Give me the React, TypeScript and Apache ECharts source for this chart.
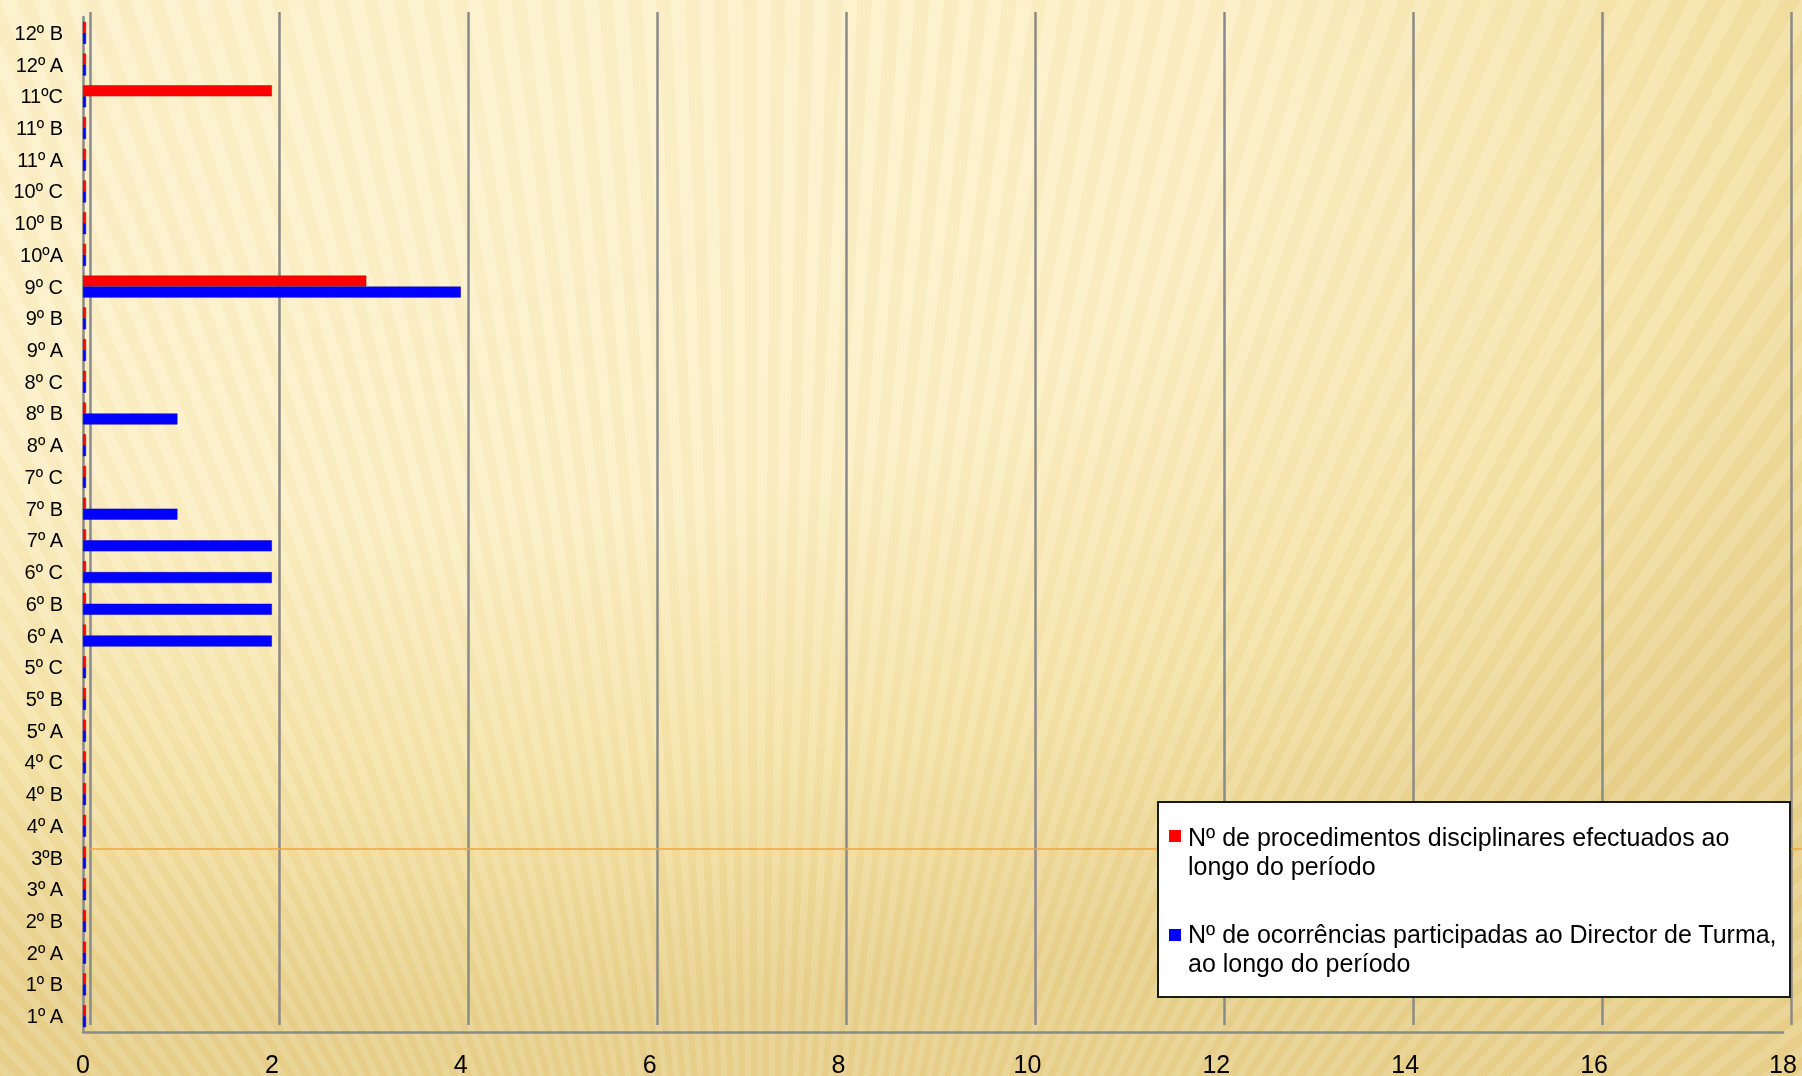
import React, { useEffect, useRef } from "react";
import * as echarts from "echarts";

const categories = [
  "1º A", "1º B", "2º A", "2º B", "3º A", "3ºB", "4º A", "4º B", "4º C",
  "5º A", "5º B", "5º C", "6º A", "6º B", "6º C", "7º A", "7º B", "7º C",
  "8º A", "8º B", "8º C", "9º A", "9º B", "9º C", "10ºA", "10º B", "10º C",
  "11º A", "11º B", "11ºC", "12º A", "12º B",
];

const procedimentos = [
  0, 0, 0, 0, 0, 0, 0, 0, 0,
  0, 0, 0, 0, 0, 0, 0, 0, 0,
  0, 0, 0, 0, 0, 3, 0, 0, 0,
  0, 0, 2, 0, 0,
];

const ocorrencias = [
  0, 0, 0, 0, 0, 0, 0, 0, 0,
  0, 0, 0, 2, 2, 2, 2, 1, 0,
  0, 1, 0, 0, 0, 4, 0, 0, 0,
  0, 0, 0, 0, 0,
];

const seriesNames = [
  "Nº de procedimentos disciplinares efectuados ao\nlongo do período",
  "Nº de ocorrências participadas ao Director de Turma,\nao longo do período",
];

const xTicks = { min: 0, max: 18, interval: 2 };

const FONT = "'Liberation Sans', Arial, sans-serif";

export default function App() {
  const ref = useRef<HTMLDivElement>(null);

  useEffect(() => {
    document.body.style.margin = "0";
    const chart = echarts.init(ref.current!, undefined, { renderer: "svg" });
    const grey = "#8a8a8a";
    chart.setOption({
      animation: false,
      backgroundColor: "transparent",
      grid: [
        { left: 90, top: 12, right: 11, bottom: 51 },
        { left: 83, top: 17, right: 19, bottom: 44 },
      ],
      xAxis: [
        {
          gridIndex: 0,
          type: "value",
          min: xTicks.min,
          max: xTicks.max,
          interval: xTicks.interval,
          axisLabel: { show: false },
          axisLine: { show: false },
          axisTick: { show: false },
          splitLine: { show: true, lineStyle: { color: grey, width: 2.5 } },
        },
        {
          gridIndex: 1,
          type: "value",
          min: xTicks.min,
          max: xTicks.max,
          interval: xTicks.interval,
          axisLabel: { fontSize: 25, color: "#000", margin: 19, fontFamily: FONT },
          axisLine: { show: true, lineStyle: { color: grey, width: 2.5 } },
          axisTick: { show: false },
          splitLine: { show: false },
        },
      ],
      yAxis: [
        { gridIndex: 0, type: "value", show: false },
        {
          gridIndex: 1,
          type: "category",
          data: categories,
          axisLabel: { fontSize: 20, color: "#000", margin: 20, fontFamily: FONT, interval: 0 },
          axisLine: { show: true, lineStyle: { color: grey, width: 2.5 } },
          axisTick: { show: false },
          splitLine: { show: false },
        },
      ],
      series: [
        {
          name: seriesNames[0],
          type: "bar",
          xAxisIndex: 1,
          yAxisIndex: 1,
          data: procedimentos,
          barWidth: 11,
          barGap: "0%",
          barMinHeight: 3,
          itemStyle: { color: "#ff0000", borderColor: "#c00000", borderWidth: 0.5 },
        },
        {
          name: seriesNames[1],
          type: "bar",
          xAxisIndex: 1,
          yAxisIndex: 1,
          data: ocorrencias,
          barWidth: 11,
          barGap: "0%",
          barMinHeight: 3,
          itemStyle: { color: "#0000ff", borderColor: "#0000b0", borderWidth: 0.5 },
        },
      ],
      graphic: [
        {
          type: "line",
          z: 1,
          silent: true,
          shape: { x1: 90, y1: 849, x2: 1802, y2: 849 },
          style: { stroke: "#f0a53c", lineWidth: 1.5 },
        },
        {
          type: "rect",
          z: 100,
          shape: { x: 1158, y: 802, width: 632, height: 195 },
          style: { fill: "#ffffff", stroke: "#1a1a1a", lineWidth: 2 },
        },
        {
          type: "rect",
          z: 101,
          shape: { x: 1169, y: 830, width: 12, height: 12 },
          style: { fill: "#ff0000" },
        },
        {
          type: "text",
          z: 101,
          x: 1188,
          y: 822,
          style: {
            text: seriesNames[0],
            fill: "#000",
            font: `25px ${FONT}`,
            lineHeight: 29,
            verticalAlign: "top",
          },
        },
        {
          type: "rect",
          z: 101,
          shape: { x: 1169, y: 929, width: 12, height: 12 },
          style: { fill: "#0000ff" },
        },
        {
          type: "text",
          z: 101,
          x: 1188,
          y: 919,
          style: {
            text: seriesNames[1],
            fill: "#000",
            font: `25px ${FONT}`,
            lineHeight: 29,
            verticalAlign: "top",
          },
        },
      ],
    });
    return () => chart.dispose();
  }, []);

  const bg = [
    "repeating-conic-gradient(from 0deg at 42% 170%, rgba(255,255,255,0.10) 0deg 0.45deg, rgba(190,150,50,0.035) 0.45deg 0.9deg)",
    "radial-gradient(ellipse 95% 85% at 25% 10%, #fdf2cc 0%, #fcefc5 45%, #f4e2a6 75%, #e8d08c 100%)",
  ].join(", ");

  return (
    <div
      style={{
        position: "fixed",
        left: 0,
        top: 0,
        width: 1802,
        height: 1076,
        background: bg,
      }}
    >
      <div ref={ref} style={{ width: 1802, height: 1076 }} />
    </div>
  );
}
